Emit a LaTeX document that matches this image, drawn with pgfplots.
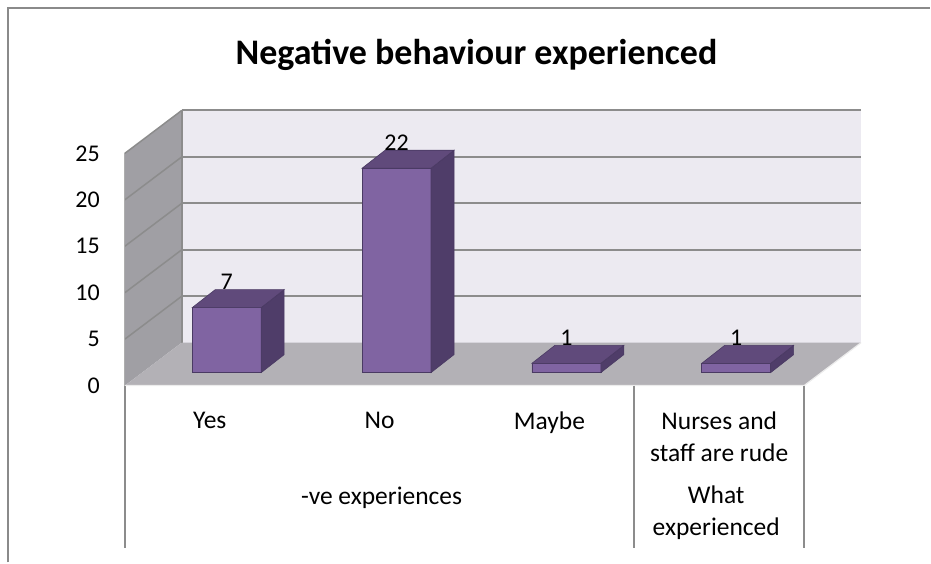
\documentclass[border=0pt]{standalone}
\usepackage{pgfplots}
\usepackage{pgfplotstable}
\pgfplotsset{compat=1.18}
\usepackage{fontspec}
\setmainfont{Carlito}
\definecolor{barfront}{HTML}{8064A2}
\definecolor{bartop}{HTML}{604A7B}
\definecolor{barside}{HTML}{4F3D69}
\definecolor{baredge}{HTML}{4A3A63}
\definecolor{backwall}{HTML}{ECEAF1}
\definecolor{sidewall}{HTML}{A09FA4}
\definecolor{floorc}{HTML}{B3B1B6}
\definecolor{gridc}{HTML}{8C8C8C}
\definecolor{framec}{HTML}{8A8A8A}
\newcommand\lab{\fontsize{25.5}{32}\selectfont}
\newcommand\tlab{\fontsize{24}{28}\selectfont}

\pgfdeclareplotmark{bar3d}{%
  \pgfmathsetmacro\barlow{-\rawy*9.3}%
  \pgfmathsetmacro\barlowb{18-\rawy*9.3}%
  \pgfsetlinewidth{0.6pt}%
  \pgfsetstrokecolor{baredge}%
  \pgfpathmoveto{\pgfqpoint{34.5pt}{0pt}}%
  \pgfpathlineto{\pgfqpoint{57.5pt}{18pt}}%
  \pgfpathlineto{\pgfpoint{57.5pt}{\barlowb pt}}%
  \pgfpathlineto{\pgfpoint{34.5pt}{\barlow pt}}%
  \pgfpathclose
  \pgfsetfillcolor{barside}%
  \pgfusepath{fill,stroke}%
  \pgfpathmoveto{\pgfqpoint{-34.5pt}{0pt}}%
  \pgfpathlineto{\pgfqpoint{34.5pt}{0pt}}%
  \pgfpathlineto{\pgfqpoint{57.5pt}{18pt}}%
  \pgfpathlineto{\pgfqpoint{-11.5pt}{18pt}}%
  \pgfpathclose
  \pgfsetfillcolor{bartop}%
  \pgfusepath{fill,stroke}%
}

\pgfplotstableread{
x v
0 7
1 22
2 1
3 1
}\datatable

\begin{document}
\begin{tikzpicture}
\begin{axis}[
  width=931pt, height=563pt, scale only axis,
  xmin=-1.335294, xmax=4.141176, ymin=-20.430108, ymax=40.107527,
  clip=false,
  axis line style={draw=none}, tick style={draw=none}, major tick length=0pt,
  /pgf/number format/assume math mode=true,
  ytick={0,5,...,25},
  yticklabel style={anchor=east, inner sep=0pt, xshift=100pt, yshift=-13pt, font=\tlab},
  xtick={0,1,2,3},
  xticklabels={Yes,No,Maybe,{Nurses and\\staff are rude}},
  xticklabel style={anchor=north, inner sep=0pt, align=center, xshift=-17pt, yshift=151pt, font=\lab},
]
% frame
\draw[framec, line width=2pt] (axis cs:-1.2882,-20.430108) -- (axis cs:-1.2882,39.247) -- (axis cs:4.141176,39.247);
% left wall
\fill[sidewall] (axis cs:-0.6,-1.3978) -- (axis cs:-0.6,23.6022) -- (axis cs:-0.2647,28.2258) -- (axis cs:-0.2647,3.2258) -- cycle;
% back wall
\fill[backwall] (axis cs:-0.2647,3.2258) -- (axis cs:3.7353,3.2258) -- (axis cs:3.7353,28.2258) -- (axis cs:-0.2647,28.2258) -- cycle;
% grid lines
\draw[gridc, line width=2pt] (axis cs:-0.2647,8.2258) -- (axis cs:3.7353,8.2258);
\draw[gridc, line width=2pt] (axis cs:-0.2647,13.2258) -- (axis cs:3.7353,13.2258);
\draw[gridc, line width=2pt] (axis cs:-0.2647,18.2258) -- (axis cs:3.7353,18.2258);
\draw[gridc, line width=2pt] (axis cs:-0.2647,23.2258) -- (axis cs:3.7353,23.2258);
\draw[gridc, line width=2pt] (axis cs:-0.2647,28.2258) -- (axis cs:3.7353,28.2258);
\draw[gridc, line width=1.5pt] (axis cs:-0.6,3.6022) -- (axis cs:-0.2647,8.2258);
\draw[gridc, line width=1.5pt] (axis cs:-0.6,8.6022) -- (axis cs:-0.2647,13.2258);
\draw[gridc, line width=1.5pt] (axis cs:-0.6,13.6022) -- (axis cs:-0.2647,18.2258);
\draw[gridc, line width=1.5pt] (axis cs:-0.6,18.6022) -- (axis cs:-0.2647,23.2258);
\draw[gridc, line width=1.5pt] (axis cs:-0.6,23.6022) -- (axis cs:-0.2647,28.2258);
\draw[gridc, line width=1.5pt] (axis cs:-0.2647,3.2258) -- (axis cs:-0.2647,28.2258);
\draw[gridc!70, line width=1pt] (axis cs:-0.6,-1.3978) -- (axis cs:-0.6,23.6022);
% floor
\fill[floorc] (axis cs:-0.6,-1.3978) -- (axis cs:3.4,-1.3978) -- (axis cs:3.7353,3.2258) -- (axis cs:-0.2647,3.2258) -- cycle;
\draw[white!85!gray, line width=1.2pt] (axis cs:-0.6,-1.3978) -- (axis cs:3.4,-1.3978) -- (axis cs:3.7353,3.2258);
% dividers
\draw[gridc, line width=2pt] (axis cs:-0.6,-1.3978) -- (axis cs:-0.6,-18.925);
\draw[gridc, line width=2pt] (axis cs:2.4,-1.3978) -- (axis cs:2.4,-18.925);
\draw[gridc, line width=2pt] (axis cs:3.4,-1.3978) -- (axis cs:3.4,-18.925);
% bars
\addplot[ybar, bar width=69pt, bar shift=0pt, fill=barfront, draw=baredge, line width=0.6pt] table[x=x,y=v]{\datatable};
\addplot[only marks, mark=bar3d, visualization depends on={\thisrow{v} \as \rawy},
  nodes near coords, every node near coord/.append style={anchor=center, yshift=26pt, font=\tlab, text=black}]
  table[x=x,y=v]{\datatable};
% group labels and title
\node[font=\lab, align=center] at (axis cs:0.9118,-13.441) {-ve experiences};
\node[font=\lab, align=center] at (axis cs:2.8824,-15.108) {What\\experienced};
\node[font=\fontsize{36}{40}\selectfont\bfseries] at (axis cs:1.4706,34.19) {Negative behaviour experienced};
\end{axis}
\end{tikzpicture}
\end{document}
